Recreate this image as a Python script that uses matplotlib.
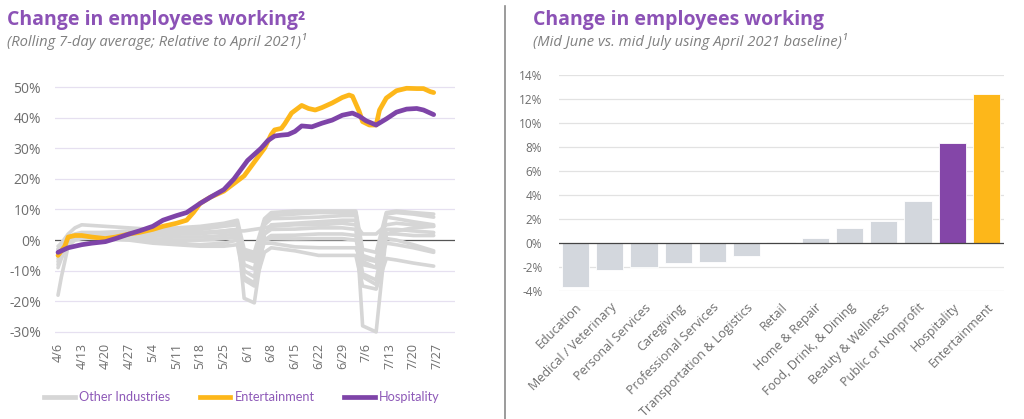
import matplotlib.pyplot as plt
from matplotlib.lines import Line2D

plt.rcParams['font.family'] = ['Open Sans', 'DejaVu Sans']

# ---- left chart data (day 0 = 4/6) ----
date_ticks = [0, 7, 14, 21, 28, 35, 42, 49, 56, 63, 70, 77, 84, 91, 98, 105, 112]
date_labels = ['4/6', '4/13', '4/20', '4/27', '5/4', '5/11', '5/18', '5/25', '6/1',
               '6/8', '6/15', '6/22', '6/29', '7/6', '7/13', '7/20', '7/27']

ent_days = [0, 2, 3, 5, 7, 10, 14, 17, 21, 24, 28, 31, 35, 38, 40, 42, 45, 49, 52, 55,
            57, 59, 61, 63, 64, 66, 67, 69, 72, 74, 76, 78, 81, 84, 86, 87, 89, 90, 92,
            94, 95, 97, 100, 103, 106, 108, 110, 111]
ent_values = [-5, -2, 1, 1.5, 1.5, 1, 0.5, 1, 2, 2.5, 3.5, 4.5, 5.5, 6.5, 9, 12, 14, 16,
              18.5, 21, 24, 27, 30, 34.5, 36, 36.5, 38, 41.5, 44, 43, 42.5, 43.3, 44.8,
              46.6, 47.4, 47, 42, 38.7, 37.6, 37.6, 42.5, 46.4, 48.8, 49.6, 49.5, 49.5,
              48.5, 48.2]

hosp_days = [0, 3, 7, 10, 14, 17, 21, 24, 28, 31, 35, 38, 42, 45, 49, 52, 54, 56, 58, 60,
             62, 64, 66, 68, 70, 72, 75, 78, 81, 84, 87, 89, 91, 94, 97, 100, 103, 106,
             108, 111]
hosp_values = [-4, -2.5, -1.5, -1, -0.5, 0.5, 2, 3, 4.5, 6.5, 8, 9, 12, 14, 16.5, 20, 23,
               26, 28, 30, 32.5, 34, 34.3, 34.5, 35.5, 37.3, 37, 38.2, 39.2, 40.8, 41.5,
               40.5, 39, 37.6, 39.6, 41.8, 42.8, 43, 42.5, 41]

other_days = [0, 1, 3, 5, 7, 14, 21, 28, 35, 42, 49, 53, 55, 58, 61, 63, 70, 77, 84, 88,
              90, 94, 97, 100, 105, 111]
other_industries = [
    [-3, -1, 2, 4, 5, 4.5, 4, 3.5, 4, 4.5, 5.5, 6.5, -3, -4, 7, 9, 9.5, 9.5, 9.5, 9.5, -3, -4, 9, 9.5, 9, 8.5],
    [-6, -3, 0, 1.5, 2, 2.5, 3, 3, 3.5, 4, 5, 5.5, -5, -6, 6, 8, 8.5, 9, 9, 9, -5, -6.5, 8.5, 9, 8.5, 7.5],
    [-4, -2, 1, 2, 2.5, 2.5, 2.5, 3, 3, 3.5, 4.5, 5, -8, -9.5, 5, 7, 7.2, 7.5, 8, 8, -7, -9, 7.5, 7, 6, 5],
    [-2, -1, 1, 1.5, 2, 2, 2, 2.5, 2.5, 2.5, 2.5, 3, 3, 3.5, 4, 4.5, 5, 5, 5.5, 5, 2, 2, 5, 5.5, 5, 4.5],
    [-8, -5, 0, 1, 1.5, 2, 2, 2, 2, 2.5, 3, 3.5, -10, -12, 2, 3.5, 3.6, 4, 4, 3.5, -11, -13, 3.5, 3.5, 3, 2.5],
    [-5, -3, 0, 0.5, 1, 1, 1, 0.5, 0, 0, 0.5, 1, -12, -14, 0, 1.5, 1.6, 2, 2, 1.5, -12, -14.5, 2, 2, 1.5, 1.5],
    [-9, -6, -1, 0, 0.5, 1, 0.5, 0, -1, -1.5, -1, 0, -4, -5, 0, 0.5, 0.4, 0.5, 0.5, 0, -6, -7, 0.5, 0, -1.5, -3.5],
    [-3, -2, 0, 0.5, 1, 1, 1.5, 1.5, 1, 1, 1.5, 2, -6, -7, -1, -1, -2.2, -2.5, -2.5, -2.5, -8, -9, -1, -1.5, -2.5, -4],
    [-7, -4, 0, 1, 1, 0.5, 0, -1, -1.5, -2, -2, -1.5, -13, -15, -4, -2.5, -3.5, -5, -5, -5, -15, -16, -6, -6.5, -7.5, -8.5],
    [-18, -12, -2, 0, 1, 2, 2.5, 2.5, 2, 2, 3, 3.5, -19, -20.5, 2, 5, 5.5, 6, 6.5, 6.5, -28, -30, 2, 3, 4, 4.5],
]

# ---- right chart data ----
categories = ['Education', 'Medical / Veterinary', 'Personal Services', 'Caregiving',
              'Professional Services', 'Transportation & Logistics', 'Retail',
              'Home & Repair', 'Food, Drink, & Dining', 'Beauty & Wellness',
              'Public or Nonprofit', 'Hospitality', 'Entertainment']
bar_values = [-3.6, -2.2, -1.95, -1.67, -1.53, -1.06, 0.08, 0.47, 1.25, 1.88, 3.5, 8.33, 12.4]

purple = '#7E44A8'
yellow = '#FDB71A'
gray_line = '#D6D6D6'
gray_bar = '#D3D7DD'
title_purple = '#8C52B6'
label_gray = '#6E6E6E'

fig = plt.figure(figsize=(10.24, 4.19), dpi=100)
W, H = 1024, 419

# ---------- left: line chart ----------
ax1 = fig.add_axes([55 / W, 1 - 335 / H, 400 / W, 251 / H])
ax1.set_xlim(-0.89, 117.3)
ax1.set_ylim(-31, 51)
for v in range(-30, 51, 10):
    if v == 0:
        ax1.axhline(0, color='#555555', lw=0.9, zorder=1)
    else:
        ax1.axhline(v, color='#E6E0F0', lw=0.9, zorder=0)

for series in other_industries:
    ax1.plot(other_days, series, color=gray_line, lw=2.6, zorder=2,
             solid_joinstyle='round', solid_capstyle='round')
ax1.plot(ent_days, ent_values, color=yellow, lw=3.4, zorder=3,
         solid_joinstyle='round', solid_capstyle='round')
ax1.plot(hosp_days, hosp_values, color=purple, lw=3.4, zorder=4,
         solid_joinstyle='round', solid_capstyle='round')

ax1.set_yticks(range(-30, 51, 10))
ax1.set_yticklabels([f'{v}%' for v in range(-30, 51, 10)])
ax1.set_xticks(date_ticks)
ax1.set_xticklabels(date_labels, rotation=90)
ax1.tick_params(axis='y', length=0, pad=10, labelsize=10, labelcolor=label_gray)
ax1.tick_params(axis='x', length=0, pad=6, labelsize=9, labelcolor=label_gray)
for s in ax1.spines.values():
    s.set_visible(False)

handles = [Line2D([], [], color=gray_line, lw=3.4),
           Line2D([], [], color=yellow, lw=3.4),
           Line2D([], [], color=purple, lw=3.4)]
leg = fig.legend(handles, ['Other Industries', 'Entertainment', 'Hospitality'],
                 loc='center', bbox_to_anchor=(242 / W, 1 - 397 / H), ncol=3,
                 frameon=False, handlelength=2.4, handletextpad=0.35,
                 columnspacing=2.3, prop={'family': ['Lato', 'DejaVu Sans'], 'size': 9.2})
for t in leg.get_texts():
    t.set_color('#8E5AB8')

fig.text(7 / W, 1 - 25 / H, 'Change in employees working²', fontsize=14,
         weight='bold', color=title_purple, va='baseline')
fig.text(7 / W, 1 - 42 / H, '(Rolling 7-day average; Relative to April 2021)¹',
         fontsize=10.6, style='italic', color='#808080', va='center')

# ---------- right: bar chart ----------
ax2 = fig.add_axes([559 / W, 1 - 291.3 / H, 445 / W, 216 / H])
colors = []
for c in categories:
    if c == 'Hospitality':
        colors.append('#8446A8')
    elif c == 'Entertainment':
        colors.append(yellow)
    else:
        colors.append(gray_bar)
x = list(range(len(categories)))
ax2.bar(x, bar_values, width=0.8, color=colors, edgecolor='white', linewidth=0.6, zorder=2)
ax2.set_xlim(-0.48, 12.51)
ax2.set_ylim(-4, 14)
for v in range(-4, 15, 2):
    if v == 0:
        ax2.axhline(0, color='#444444', lw=0.9, zorder=3)
    else:
        ax2.axhline(v, color='#E2E2E2', lw=0.9, zorder=0)
ax2.set_yticks(range(-4, 15, 2))
ax2.set_yticklabels([f'{v}%' for v in range(-4, 15, 2)])
ax2.set_xticks(x)
ax2.set_xticklabels(categories, rotation=45, ha='right', rotation_mode='anchor')
ax2.tick_params(axis='y', length=0, pad=12, labelsize=8.5, labelcolor=label_gray)
ax2.tick_params(axis='x', length=0, pad=7, labelsize=9, labelcolor=label_gray)
for s in ax2.spines.values():
    s.set_visible(False)

fig.text(533 / W, 1 - 25 / H, 'Change in employees working', fontsize=14,
         weight='bold', color=title_purple, va='baseline')
fig.text(533 / W, 1 - 42 / H, '(Mid June vs. mid July using April 2021 baseline)¹',
         fontsize=10.6, style='italic', color='#808080', va='center')

# separator
fig.add_artist(Line2D([505 / W, 505 / W], [0, 1 - 6 / H], transform=fig.transFigure,
                      color='#8A8A8A', lw=1.2))

fig.savefig('out.png', dpi=100)
